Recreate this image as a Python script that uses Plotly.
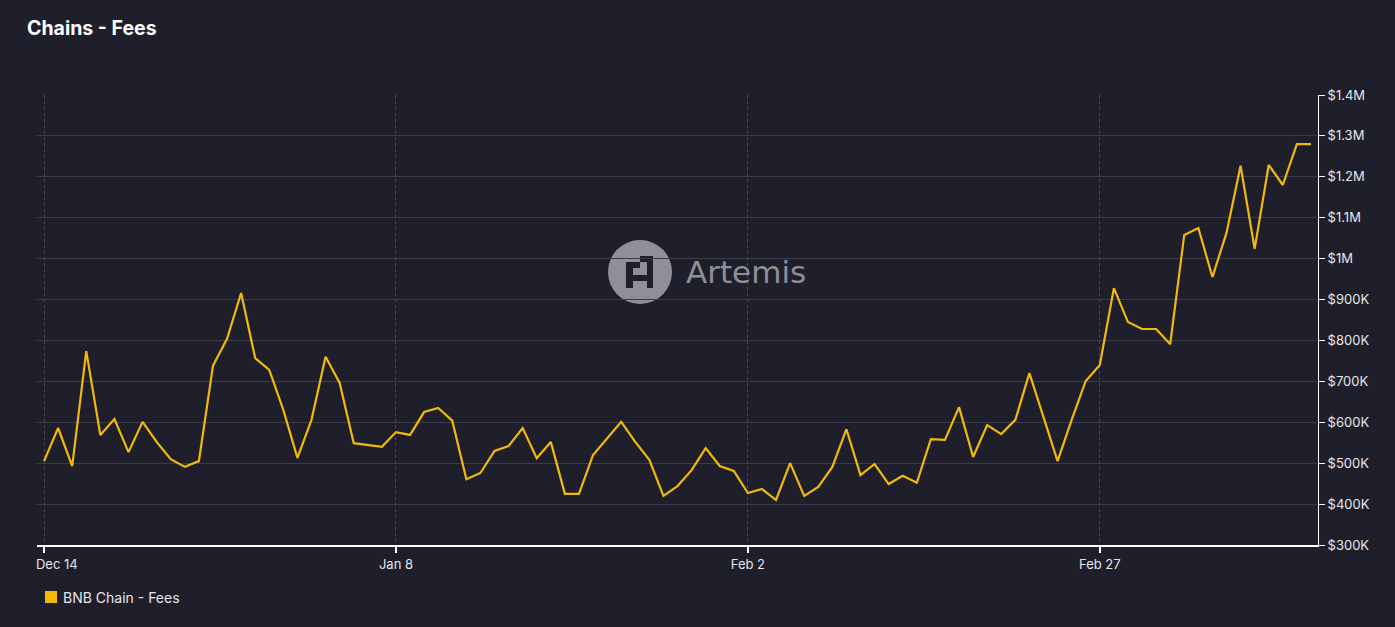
import datetime as dt
import plotly.graph_objects as go

# ---- data ----
start_date = dt.date(2023, 12, 14)
fees = [
    505, 586, 493, 774, 569, 608, 527, 601, 552, 510,
    491, 505, 738, 804, 916, 757, 728, 630, 513, 606,
    760, 696, 549, 545, 540, 576, 569, 625, 635, 604,
    461, 476, 530, 542, 586, 512, 552, 425, 425, 520,
    561, 601, 552, 508, 420, 444, 483, 537, 493, 481,
    427, 437, 410, 500, 420, 442, 491, 583, 471, 498,
    449, 469, 452, 559, 557, 637, 515, 593, 571, 606,
    720, 613, 505, 606, 701, 740, 928, 845, 828, 828,
    791, 1058, 1075, 955, 1063, 1227, 1024, 1229, 1180, 1280,
    1280,
]
fees = [v * 1000 for v in fees]
dates = [start_date + dt.timedelta(days=i) for i in range(len(fees))]

x_tick_vals = [dt.date(2023, 12, 14), dt.date(2024, 1, 8), dt.date(2024, 2, 2), dt.date(2024, 2, 27)]
x_tick_text = ["\u00a0\u00a0\u00a0\u00a0\u00a0\u00a0\u00a0Dec 14", "Jan 8", "Feb 2", "Feb 27"]
y_tick_vals = [300000, 400000, 500000, 600000, 700000, 800000, 900000, 1000000,
               1100000, 1200000, 1300000, 1400000]
y_tick_text = ["$300K", "$400K", "$500K", "$600K", "$700K", "$800K", "$900K", "$1M",
               "$1.1M", "$1.2M", "$1.3M", "$1.4M"]

series_name = "BNB Chain - Fees"
line_color = "#f0b90b"
bg = "#1e1f2b"

fig = go.Figure()
fig.add_trace(go.Scatter(
    x=dates, y=fees, mode="lines", name=series_name,
    line=dict(color=line_color, width=2.2), showlegend=False,
))

# pixel -> paper helpers for decoration
L, R, T, B = 37, 1318, 95, 545
def px(x):
    return (x - L) / (R - L)
def py(y):
    return (B - y) / (B - T)

shapes = []
# watermark logo circle
shapes.append(dict(type="circle", xref="paper", yref="paper",
                   x0=px(608), x1=px(672), y0=py(304), y1=py(240),
                   fillcolor="#8e8f97", line=dict(width=0), layer="below"))
glyph = [
    (640, 256, 653, 262),
    (647, 256, 653, 288),
    (626, 268, 633, 288),
    (626, 275, 653, 281),
    (633, 262, 640, 268),
    (626, 262, 633, 268),
]
for x0, y0, x1, y1 in glyph:
    shapes.append(dict(type="rect", xref="paper", yref="paper",
                       x0=px(x0), x1=px(x1), y0=py(y1), y1=py(y0),
                       fillcolor="#1e1f2b", line=dict(width=0), layer="below"))
# legend swatch
shapes.append(dict(type="rect", xref="paper", yref="paper",
                   x0=px(45), x1=px(57), y0=py(603), y1=py(591),
                   fillcolor=line_color, line=dict(width=0)))

fig.update_layout(
    width=1395, height=627,
    paper_bgcolor=bg, plot_bgcolor=bg,
    margin=dict(l=L, r=1395 - R, t=T, b=627 - B, autoexpand=False),
    font=dict(family="Inter, Roboto, sans-serif", color="#e6e6ea", size=12),
    title=dict(text="<b>Chains - Fees</b>", x=27 / 1395, xanchor="left",
               y=1 - 28 / 627, yanchor="middle",
               font=dict(size=19.5, color="#ffffff")),
    showlegend=False,
    xaxis=dict(
        range=[dt.datetime(2023, 12, 13, 12), dt.datetime(2024, 3, 13, 12)],
        tickvals=x_tick_vals, ticktext=x_tick_text, automargin=False,
        showgrid=True, gridcolor="#4a4c5a", griddash="dot", gridwidth=1,
        showline=True, linecolor="#ffffff", linewidth=2,
        ticks="outside", tickcolor="#ffffff", ticklen=6, tickwidth=2,
        tickfont=dict(size=13, color="#e6e6ea"), zeroline=False,
    ),
    yaxis=dict(
        side="right", range=[300000, 1400000], automargin=False,
        tickvals=y_tick_vals, ticktext=y_tick_text,
        showgrid=True, gridcolor="#3a3c4a", gridwidth=1,
        showline=True, linecolor="#ffffff", linewidth=1,
        ticks="outside", tickcolor="#ffffff", ticklen=6, tickwidth=1,
        tickfont=dict(size=13, color="#e6e6ea"), zeroline=False,
    ),
    shapes=shapes,
    annotations=[
        dict(text="Artemis", xref="paper", yref="paper",
             x=px(684), y=py(272), xanchor="left", yanchor="middle",
             showarrow=False,
             font=dict(size=31, color="#8e8f97", family="DejaVu Sans, sans-serif")),
        dict(text=series_name, xref="paper", yref="paper",
             x=px(61), y=py(597), xanchor="left", yanchor="middle",
             showarrow=False, font=dict(size=14, color="#e6e6ea")),
    ],
)

fig.write_html("out.html", config={"displayModeBar": False},
               post_script="document.body.style.margin='0';document.body.style.background='#1e1f2b';")
